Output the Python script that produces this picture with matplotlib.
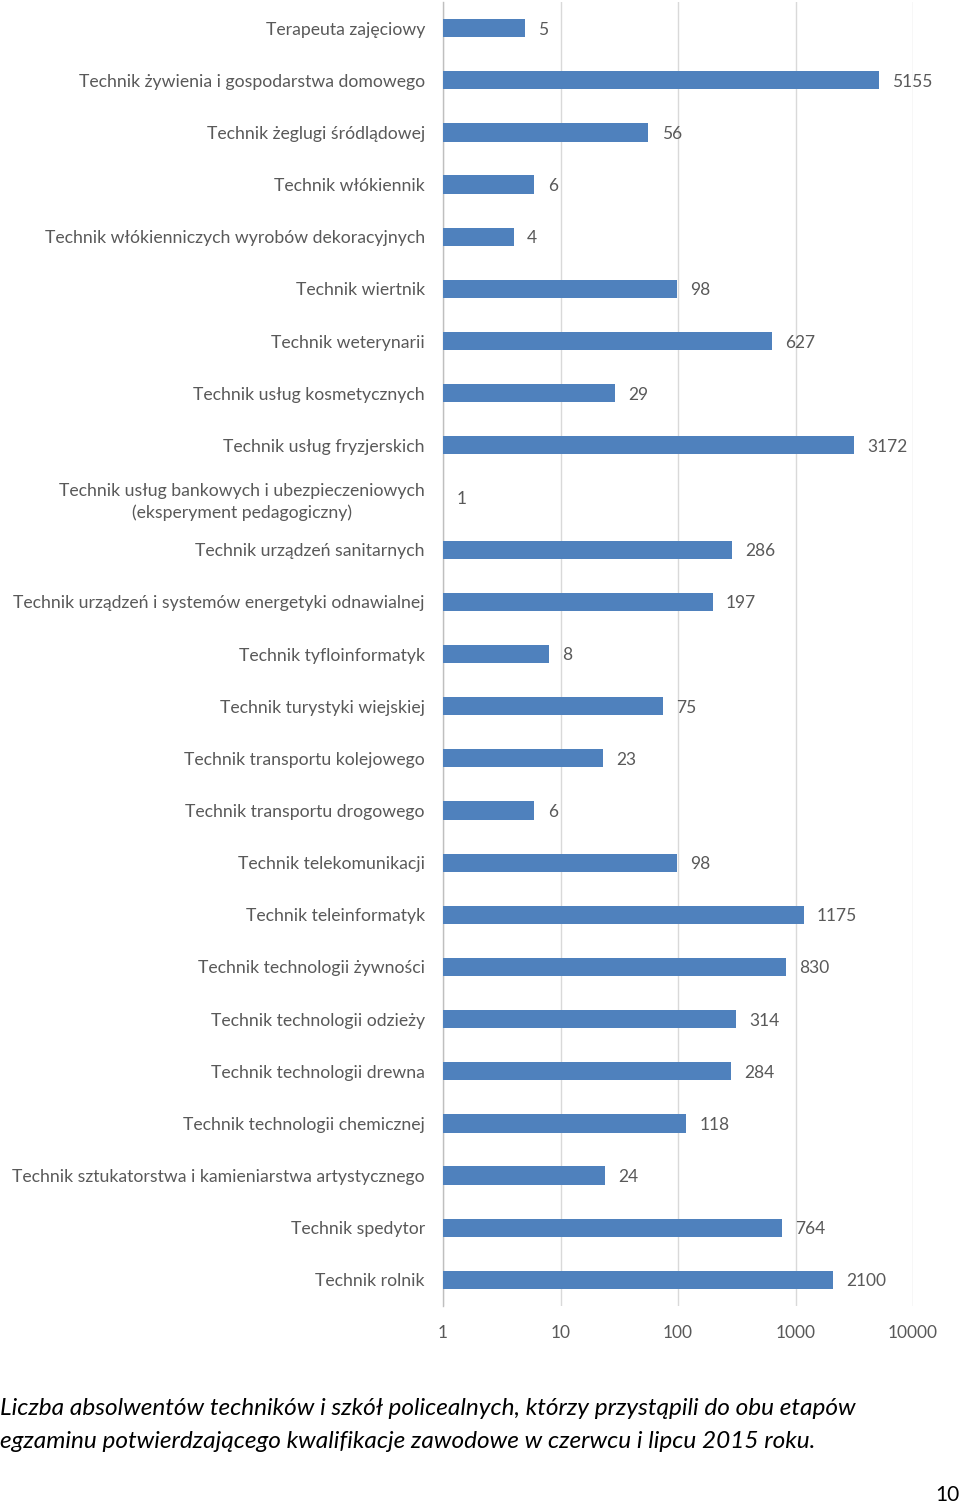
import matplotlib
matplotlib.use("Agg")
import matplotlib.pyplot as plt
from matplotlib.ticker import FixedLocator, FixedFormatter

plt.rcParams['font.family'] = ['Lato', 'DejaVu Sans']

professions = [
    "Terapeuta zajęciowy",
    "Technik żywienia i gospodarstwa domowego",
    "Technik żeglugi śródlądowej",
    "Technik włókiennik",
    "Technik włókienniczych wyrobów dekoracyjnych",
    "Technik wiertnik",
    "Technik weterynarii",
    "Technik usług kosmetycznych",
    "Technik usług fryzjerskich",
    "Technik usług bankowych i ubezpieczeniowych\n(eksperyment pedagogiczny)",
    "Technik urządzeń sanitarnych",
    "Technik urządzeń i systemów energetyki odnawialnej",
    "Technik tyfloinformatyk",
    "Technik turystyki wiejskiej",
    "Technik transportu kolejowego",
    "Technik transportu drogowego",
    "Technik telekomunikacji",
    "Technik teleinformatyk",
    "Technik technologii żywności",
    "Technik technologii odzieży",
    "Technik technologii drewna",
    "Technik technologii chemicznej",
    "Technik sztukatorstwa i kamieniarstwa artystycznego",
    "Technik spedytor",
    "Technik rolnik",
]
graduates = [5, 5155, 56, 6, 4, 98, 627, 29, 3172, 1, 286, 197, 8, 75, 23,
             6, 98, 1175, 830, 314, 284, 118, 24, 764, 2100]

x_ticks = [1, 10, 100, 1000, 10000]
x_tick_labels = ["1", "10", "100", "1000", "10000"]

caption = ("Liczba absolwentów techników i szkół policealnych, którzy przystąpili do obu etapów\n"
           "egzaminu potwierdzającego kwalifikacje zawodowe w czerwcu i lipcu 2015 roku.")

bar_color = "#4f81bd"
text_color = "#595959"
grid_color = "#d9d9d9"

W, H = 960, 1505
fig = plt.figure(figsize=(W / 100, H / 100), dpi=100)
ax = fig.add_axes([443 / W, 1 - 1306 / H, (913 - 443) / W, (1306 - 2) / H])

n = len(professions)
ypos = list(range(n))
# log axis starts at 1, so bars run from 1 up to the value
ax.barh(ypos, [v - 1 for v in graduates], height=0.35, left=1, color=bar_color,
        linewidth=0, zorder=3)

for y, v in zip(ypos, graduates):
    ax.annotate(str(v), xy=(v, y), xytext=(9.5, 0), textcoords="offset points",
                ha="left", va="center_baseline", fontsize=12.5, color=text_color)

ax.set_xscale("log")
ax.set_xlim(1, 10000)
ax.set_ylim(n - 0.5, -0.5)
ax.xaxis.set_major_locator(FixedLocator(x_ticks))
ax.xaxis.set_major_formatter(FixedFormatter(x_tick_labels))
ax.xaxis.set_minor_locator(FixedLocator([]))
ax.set_yticks(ypos)
ax.set_yticklabels(professions, multialignment="center", linespacing=1.45)
ax.tick_params(axis="y", length=0, pad=13, labelsize=12.7, labelcolor=text_color)
ax.tick_params(axis="x", length=0, pad=14, labelsize=12.5, labelcolor=text_color)

ax.grid(axis="x", color=grid_color, linewidth=1, zorder=0)
for s in ["top", "right", "bottom"]:
    ax.spines[s].set_visible(False)
ax.spines["left"].set_color("#bfbfbf")
ax.spines["left"].set_linewidth(1)

fig.text(0 / W, 1 - 1425 / H, caption, ha="left", va="center", fontsize=17.6,
         style="italic", color="black", linespacing=1.75)
fig.text(960 / W, 1 - 1495 / H, "10", ha="right", va="center", fontsize=15,
         color="black")

fig.savefig("out.png", dpi=100)
